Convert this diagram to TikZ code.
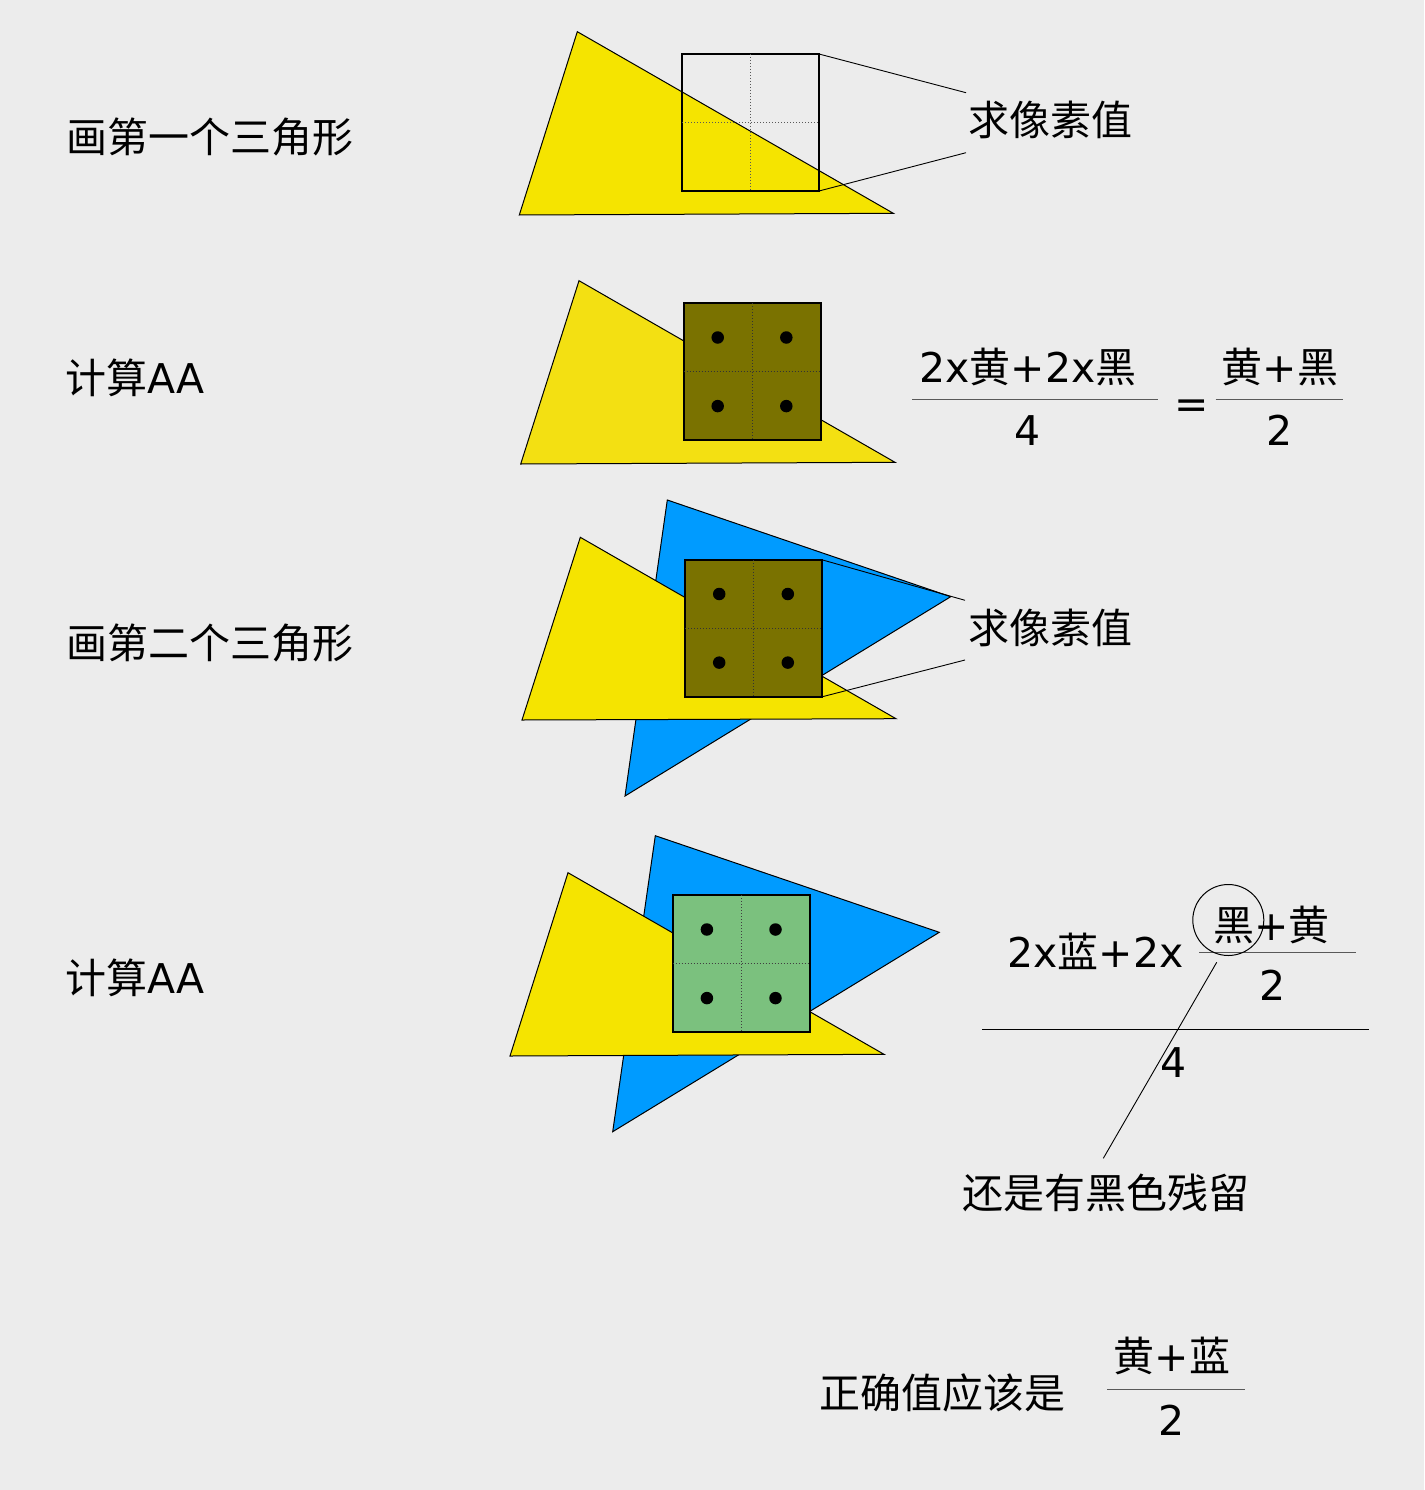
\documentclass[tikz,border=0pt]{standalone}
\usepackage{fontspec}
\usetikzlibrary{calc}
\setmainfont{DejaVu Sans}
\newfontfamily\cjk{Noto Sans CJK SC}
\definecolor{bg}{HTML}{ECECEC}
\definecolor{tyellow}{HTML}{F5E400}
\definecolor{tyellowb}{HTML}{F3E012}
\definecolor{tblue}{HTML}{009BFF}
\definecolor{olivepix}{HTML}{7A7200}
\definecolor{greenpix}{HTML}{7BC17E}
\begin{document}
\begin{tikzpicture}[x=1pt,y=-1pt,
  txt/.style={inner sep=0pt, anchor=base, font=\fontsize{41}{49}\selectfont},
  tri/.style={draw=black, line width=1pt, line join=miter},
  pix/.style={draw=black, line width=2pt, minimum size=137pt, inner sep=0pt, outer sep=0pt},
  gridline/.style={draw=black!65, line width=1pt, dotted},
  sdot/.style={circle, fill=black, inner sep=0pt, minimum size=12.5pt},
  lead/.style={draw=black, line width=0.9pt},
  fracline/.style={draw=black!65, line width=1pt}]
\fill[bg] (0,0) rectangle (1424,1490);
\useasboundingbox (0,0) rectangle (1424,1490);

% ---------- left labels ----------
\node[txt] (l1) at (210,153) {\cjk 画第一个三角形};
\node[txt] (l2) at (135,393) {{\cjk 计算}AA};
\node[txt] (l3) at (210,658) {\cjk 画第二个三角形};
\node[txt] (l4) at (135,993) {{\cjk 计算}AA};

% ---------- panel 1 ----------
\draw[tri, fill=tyellow] (577.3,31.7) -- (519.3,215) -- (893.3,213.3) -- cycle;
\node[pix] (sq1) at (750.5,122.5) {};
\draw[gridline] (sq1.north) -- (sq1.south);
\draw[gridline] (sq1.west) -- (sq1.east);
\coordinate (c1a) at (966,92.7);
\coordinate (c1b) at (966,152.7);
\draw[lead] (sq1.north east) -- (c1a);
\draw[lead] (sq1.south east) -- (c1b);
\node[txt] (q1) at (1050.5,136) {\cjk 求像素值};

% ---------- panel 2 ----------
\draw[tri, fill=tyellowb] (579,280.7) -- (520.7,464) -- (895,462.3) -- cycle;
\node[pix, fill=olivepix] (sq2) at (752,371.8) {};
\draw[gridline, draw=black!80] (sq2.north) -- (sq2.south);
\draw[gridline, draw=black!80] (sq2.west) -- (sq2.east);
\foreach \dx/\dy [count=\i] in {-1/-1,1/-1,-1/1,1/1}
  \node[sdot] (d2\i) at ($(sq2.center)+(34.3*\dx,34.3*\dy)$) {};
\node[txt] (n2) at (1028,382) {2x{\cjk 黄}+2x{\cjk 黑}};
\draw[fracline] (912.3,399.7) -- (1157.7,399.7);
\node[txt] (den2) at (1028,445) {4};
\node[txt] (eq2) at (1192,418) {=};
\node[txt] (n2b) at (1280,382) {{\cjk 黄}+{\cjk 黑}};
\draw[fracline] (1215.7,399.7) -- (1342.7,399.7);
\node[txt] (den2b) at (1280,445) {2};

% ---------- panel 3 ----------
\draw[tri, fill=tblue] (667.3,500) -- (950.7,596.7) -- (625,796) -- cycle;
\draw[tri, fill=tyellow] (580.3,537.3) -- (522,720) -- (896,718.7) -- cycle;
\node[pix, fill=olivepix] (sq3) at (753.5,628.3) {};
\draw[gridline, draw=black!80] (sq3.north) -- (sq3.south);
\draw[gridline, draw=black!80] (sq3.west) -- (sq3.east);
\foreach \dx/\dy [count=\i] in {-1/-1,1/-1,-1/1,1/1}
  \node[sdot] (d3\i) at ($(sq3.center)+(34.3*\dx,34.3*\dy)$) {};
\coordinate (c3a) at (965,600.3);
\coordinate (c3b) at (965,660);
\draw[lead] (sq3.north east) -- (c3a);
\draw[lead] (sq3.south east) -- (c3b);
\node[txt] (q3) at (1050.5,643) {\cjk 求像素值};

% ---------- panel 4 ----------
\draw[tri, fill=tblue] (655.3,835.7) -- (939.3,932.3) -- (612.7,1131.7) -- cycle;
\draw[tri, fill=tyellow] (568,872.7) -- (510,1056) -- (884,1054.3) -- cycle;
\node[pix, fill=greenpix] (sq4) at (741.2,963.8) {};
\draw[gridline, draw=black!75] (sq4.north) -- (sq4.south);
\draw[gridline, draw=black!75] (sq4.west) -- (sq4.east);
\foreach \dx/\dy [count=\i] in {-1/-1,1/-1,-1/1,1/1}
  \node[sdot] (d4\i) at ($(sq4.center)+(34.3*\dx,34.3*\dy)$) {};

\node[txt] (n4) at (1095.5,967) {2x{\cjk 蓝}+2x};
\node[txt] (n4s) at (1271.5,940) {{\cjk 黑}+{\cjk 黄}};
\draw[fracline] (1199.3,952.3) -- (1356,952.3);
\node[txt] (d4s) at (1273,1000) {2};
\draw[fracline, draw=black] (982.3,1029.3) -- (1369,1029.3);
\node[txt] (d4) at (1174,1077) {4};
\node[circle, draw=black, line width=1pt, minimum size=71pt, inner sep=0pt] (ring) at (1228.3,920) {};
\node[txt] (note) at (1105.5,1208) {\cjk 还是有黑色残留};
\coordinate (p1) at (1216.7,962.3);
\coordinate (p2) at (1103.3,1158.3);
\draw[lead] (p1) -- (p2);

% ---------- bottom ----------
\node[txt] (ans) at (942,1408) {\cjk 正确值应该是};
\node[txt] (ansn) at (1172,1371) {{\cjk 黄}+{\cjk 蓝}};
\draw[fracline] (1107,1389) -- (1245,1389);
\node[txt] (ansd) at (1172,1435) {2};
\end{tikzpicture}
\end{document}
